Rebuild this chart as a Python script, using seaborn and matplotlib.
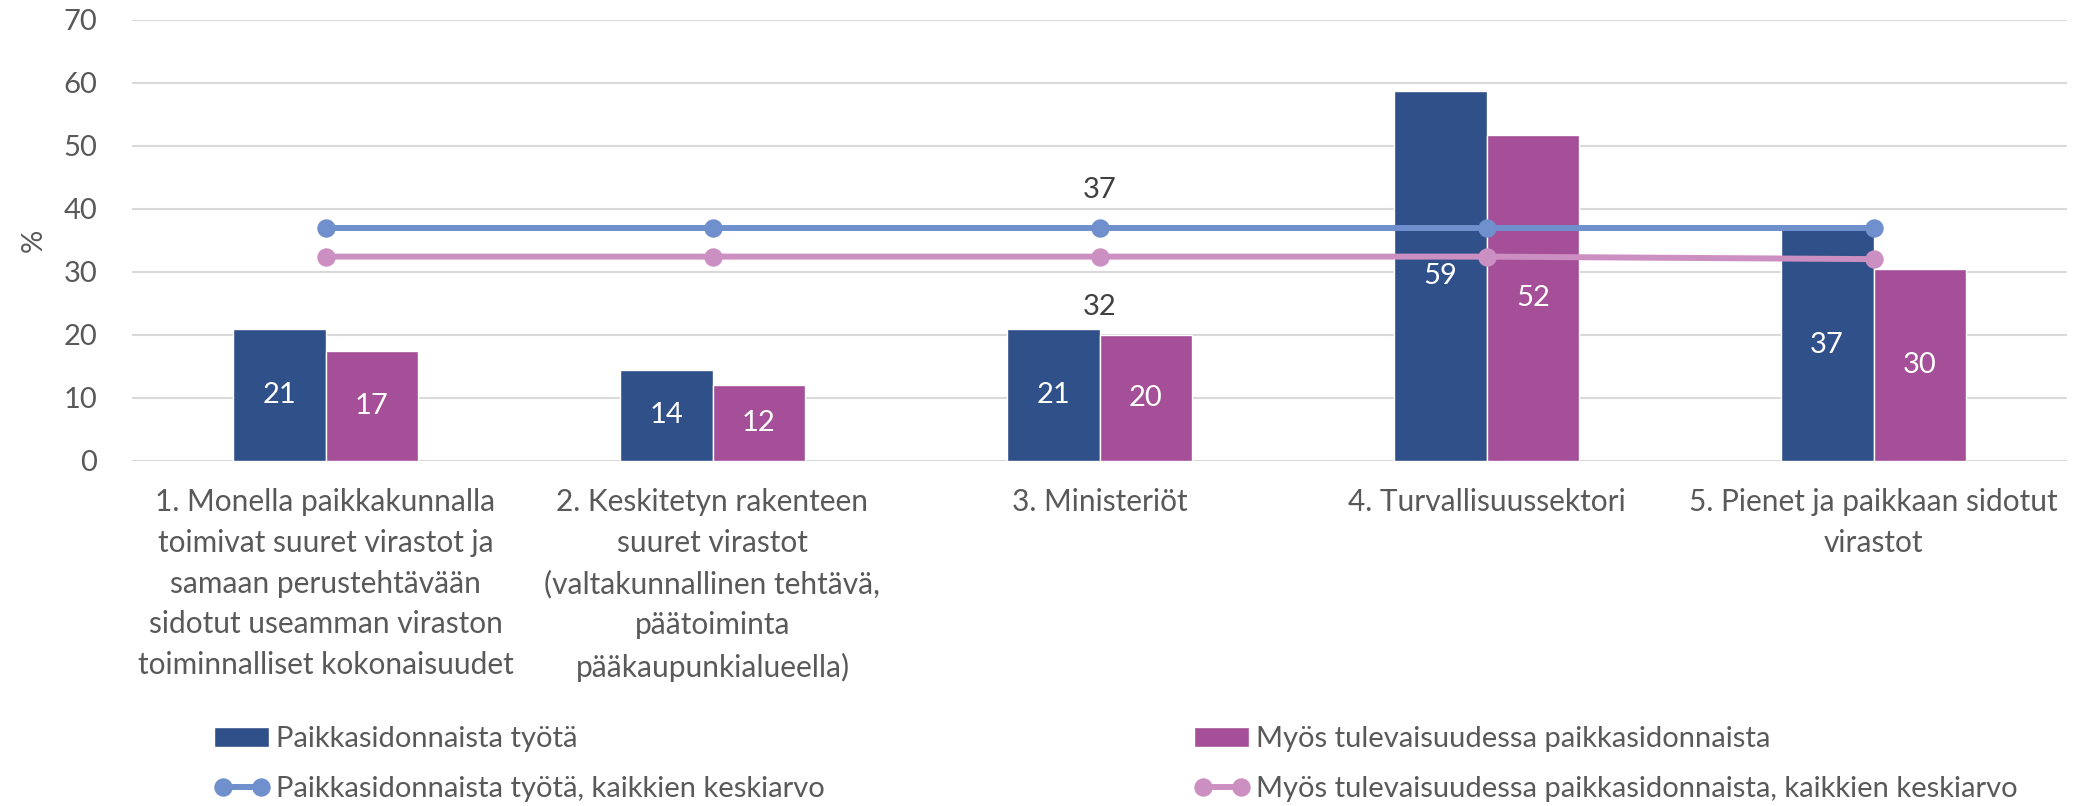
import numpy as np
import pandas as pd
import matplotlib
matplotlib.use("Agg")
import matplotlib.pyplot as plt
import seaborn as sns

# ---- data ----
categories = [
    "1. Monella paikkakunnalla\ntoimivat suuret virastot ja\nsamaan perustehtävään\nsidotut useamman viraston\ntoiminnalliset kokonaisuudet",
    "2. Keskitetyn rakenteen\nsuuret virastot\n(valtakunnallinen tehtävä,\npäätoiminta\npääkaupunkialueella)",
    "3. Ministeriöt",
    "4. Turvallisuussektori",
    "5. Pienet ja paikkaan sidotut\nvirastot",
]
series_names = ["Paikkasidonnaista työtä", "Myös tulevaisuudessa paikkasidonnaista"]
line_names = ["Paikkasidonnaista työtä, kaikkien keskiarvo",
              "Myös tulevaisuudessa paikkasidonnaista, kaikkien keskiarvo"]
paikka = [20.9, 14.4, 20.9, 58.7, 36.8]
tuleva = [17.4, 12.0, 19.9, 51.7, 30.4]
avg_paikka = [37.0, 37.0, 37.0, 37.0, 37.0]
avg_tuleva = [32.4, 32.4, 32.4, 32.4, 32.0]
yticks = [0, 10, 20, 30, 40, 50, 60, 70]

bar_colors = ["#2F5089", "#A44F97"]
line_colors = ["#6F8FCD", "#CC8FC2"]
text_gray = "#595959"

sns.set_theme(style="white")
plt.rcParams["font.family"] = ["Lato", "DejaVu Sans"]

fig = plt.figure(figsize=(20.8, 8.06), dpi=100)
ax = fig.add_axes([132/2080, (806-460.5)/806, (2067-132)/2080, (460.5-20)/806])

df = pd.DataFrame({
    "category": categories * 2,
    "series": [series_names[0]] * 5 + [series_names[1]] * 5,
    "value": paikka + tuleva,
})
sns.barplot(data=df, x="category", y="value", hue="series", order=categories,
            hue_order=series_names, palette=bar_colors, width=0.48, saturation=1,
            errorbar=None, legend=False, ax=ax, zorder=2)

for cont, vals in zip(ax.containers, [paikka, tuleva]):
    ax.bar_label(cont, labels=[f"{v:.0f}" for v in vals], label_type="center",
                 color="white", fontsize=21)

sns.pointplot(x=categories, y=avg_paikka, order=categories, color=line_colors[0],
              markers="o", linestyles="-", errorbar=None, markersize=10,
              linewidth=4.3, ax=ax)
sns.pointplot(x=categories, y=avg_tuleva, order=categories, color=line_colors[1],
              markers="o", linestyles="-", errorbar=None, markersize=10,
              linewidth=4.3, ax=ax)
for ln in ax.lines:
    ln.set_zorder(4)
if ax.get_legend() is not None:
    ax.get_legend().remove()

# line data labels at the middle category
ax.annotate(f"{avg_paikka[2]:.0f}", xy=(2, avg_paikka[2]), xytext=(0, 27),
            textcoords="offset points", ha="center", va="center",
            color="#404040", fontsize=21)
ax.annotate(f"{avg_tuleva[2]:.0f}", xy=(2, avg_tuleva[2]), xytext=(0, -36),
            textcoords="offset points", ha="center", va="center",
            color="#404040", fontsize=21)

ax.set_xlim(-0.5, 4.5)
ax.set_ylim(0, 70)
ax.set_yticks(yticks)
ax.set_yticklabels([str(t) for t in yticks])
ax.set_xticks(range(len(categories)), labels=categories, linespacing=1.55,
              ha="center")
ax.set_xlabel("")
ax.set_ylabel("%", fontsize=21, color=text_gray)
ax.yaxis.set_label_coords(-0.044, 0.5)
ax.grid(axis="y", color="#D9D9D9", linewidth=1.5, zorder=0)
ax.set_axisbelow(True)
for s in ax.spines.values():
    s.set_visible(False)
ax.tick_params(axis="y", length=0, pad=25, labelsize=21, labelcolor=text_gray)
ax.tick_params(axis="x", length=0, pad=20, labelsize=21.5, labelcolor=text_gray)

# legends
bar_handles = list(ax.containers[:2])
line_handles = [ax.lines[0], ax.lines[1]]
common = dict(frameon=False, fontsize=21, labelcolor=text_gray, borderpad=0,
              borderaxespad=0, handlelength=1.9, handletextpad=0.22,
              labelspacing=0.82, numpoints=2, loc="upper left")
fig.legend([bar_handles[0], line_handles[0]], [series_names[0], line_names[0]],
           bbox_to_anchor=(214/2080, (806-726)/806), **common)
fig.legend([bar_handles[1], line_handles[1]], [series_names[1], line_names[1]],
           bbox_to_anchor=(1194/2080, (806-726)/806), **common)

fig.savefig("out.png", dpi=100)
